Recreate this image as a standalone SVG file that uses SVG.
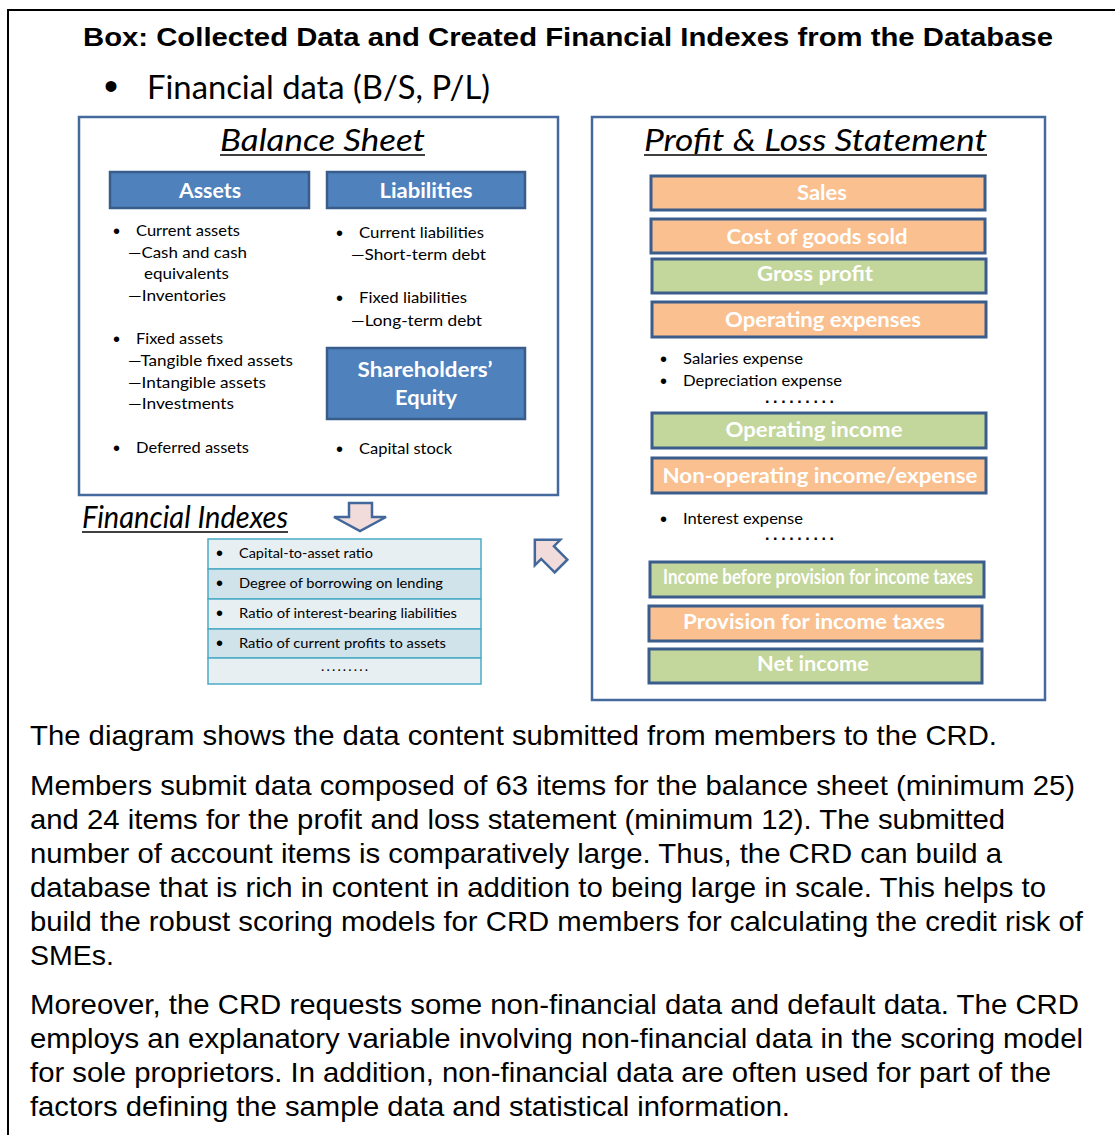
<svg xmlns="http://www.w3.org/2000/svg" width="1115" height="1135" viewBox="0 0 1115 1135">
<defs>
<style>
.frame{fill:#ffffff;stroke:#45699c;stroke-width:2.5}
.hdr{fill:#4f81bd;stroke:#385d8a;stroke-width:2.5}
.hdrt{font-family:Lato,"Liberation Sans",sans-serif;font-weight:bold;font-size:21px;fill:#ffffff;text-anchor:middle}
.lbl{font-family:Lato,"Liberation Sans",sans-serif;font-size:15px;fill:#000000}
.bul{font-family:"Liberation Sans",sans-serif;font-size:20px;fill:#000000}
.head{font-family:Lato,"Liberation Sans",sans-serif;font-style:italic;font-size:31px;fill:#000000}
.ul{stroke:#000000;stroke-width:1.5}
.or{fill:#fac090;stroke:#3b5d8c;stroke-width:3}
.gr{fill:#c3d69b;stroke:#3b5d8c;stroke-width:3}
.bart{font-family:Lato,"Liberation Sans",sans-serif;font-weight:bold;font-size:20px;fill:#ffffff;text-anchor:middle}
.para{font-family:"Liberation Sans",Arial,sans-serif;font-size:28px;fill:#000000}
.row1{fill:#e8eff3;stroke:#4bacc6;stroke-width:1.5}
.row2{fill:#d0e2ea;stroke:#4bacc6;stroke-width:1.5}
.tl{font-family:Lato,"Liberation Sans",sans-serif;font-size:14px;fill:#000000}
.arrow{fill:#f2dcdb;stroke:#41679b;stroke-width:2.5;stroke-linejoin:miter}
.dots{font-family:"Liberation Sans",sans-serif;font-size:16px;font-weight:bold;fill:#000000}
</style>
</defs>
<rect x="0" y="0" width="1115" height="1135" fill="#ffffff"/>
<g id="outer-frame">
<line x1="8" y1="10" x2="1115" y2="10" stroke="#000000" stroke-width="2"/>
<line x1="8" y1="9" x2="8" y2="1135" stroke="#000000" stroke-width="2"/>
</g>
<g id="title">
<text x="83" y="46" font-family="Liberation Sans, Arial, sans-serif" font-weight="bold" font-size="26" textLength="970" lengthAdjust="spacingAndGlyphs">Box: Collected Data and Created Financial Indexes from the Database</text>
<text x="104" y="100" font-family="Liberation Sans, sans-serif" font-size="40">•</text>
<text x="147" y="99" font-family="Lato, Liberation Sans, sans-serif" font-size="32" textLength="343" lengthAdjust="spacingAndGlyphs">Financial data (B/S, P/L)</text>
</g>
<g id="balance-sheet">
<rect class="frame" x="79" y="117" width="479" height="378"/>
<text class="head" x="220" y="151" textLength="205" lengthAdjust="spacingAndGlyphs">Balance Sheet</text>
<line class="ul" x1="220" y1="155" x2="425" y2="155"/>
<g id="assets">
<rect class="hdr" x="110" y="172" width="199" height="36"/>
<text class="hdrt" x="210" y="198" textLength="62" lengthAdjust="spacingAndGlyphs">Assets</text>
<text class="bul" x="113" y="238">•</text>
<text class="lbl" x="136" y="236" textLength="104" lengthAdjust="spacingAndGlyphs">Current assets</text>
<text class="lbl" x="128" y="258" textLength="119" lengthAdjust="spacingAndGlyphs">—Cash and cash</text>
<text class="lbl" x="144" y="279" textLength="85" lengthAdjust="spacingAndGlyphs">equivalents</text>
<text class="lbl" x="128" y="301" textLength="98" lengthAdjust="spacingAndGlyphs">—Inventories</text>
<text class="bul" x="113" y="346">•</text>
<text class="lbl" x="136" y="344" textLength="87" lengthAdjust="spacingAndGlyphs">Fixed assets</text>
<text class="lbl" x="128" y="366" textLength="165" lengthAdjust="spacingAndGlyphs">—Tangible fixed assets</text>
<text class="lbl" x="128" y="388" textLength="138" lengthAdjust="spacingAndGlyphs">—Intangible assets</text>
<text class="lbl" x="128" y="409" textLength="106" lengthAdjust="spacingAndGlyphs">—Investments</text>
<text class="bul" x="113" y="455">•</text>
<text class="lbl" x="136" y="453" textLength="113" lengthAdjust="spacingAndGlyphs">Deferred assets</text>
</g>
<g id="liabilities">
<rect class="hdr" x="327" y="172" width="198" height="36"/>
<text class="hdrt" x="426" y="198" textLength="93" lengthAdjust="spacingAndGlyphs">Liabilities</text>
<text class="bul" x="336" y="240">•</text>
<text class="lbl" x="359" y="238" textLength="125" lengthAdjust="spacingAndGlyphs">Current liabilities</text>
<text class="lbl" x="351" y="260" textLength="135" lengthAdjust="spacingAndGlyphs">—Short-term debt</text>
<text class="bul" x="336" y="305">•</text>
<text class="lbl" x="359" y="303" textLength="108" lengthAdjust="spacingAndGlyphs">Fixed liabilities</text>
<text class="lbl" x="351" y="326" textLength="131" lengthAdjust="spacingAndGlyphs">—Long-term debt</text>
</g>
<g id="equity">
<rect class="hdr" x="327" y="348" width="198" height="71"/>
<text class="hdrt" x="425" y="377" textLength="135" lengthAdjust="spacingAndGlyphs">Shareholders’</text>
<text class="hdrt" x="426" y="405" textLength="62" lengthAdjust="spacingAndGlyphs">Equity</text>
<text class="bul" x="336" y="456">•</text>
<text class="lbl" x="359" y="454" textLength="93" lengthAdjust="spacingAndGlyphs">Capital stock</text>
</g>
</g>
<g id="profit-loss">
<rect class="frame" x="592" y="117" width="453" height="583"/>
<text class="head" x="644" y="151" textLength="343" lengthAdjust="spacingAndGlyphs">Profit &amp; Loss Statement</text>
<line class="ul" x1="644" y1="155" x2="987" y2="155"/>
<g id="sales"><rect class="or" x="651" y="176" width="334" height="34"/><text class="bart" x="822" y="200" textLength="50" lengthAdjust="spacingAndGlyphs">Sales</text></g>
<g id="cogs"><rect class="or" x="651" y="219" width="334" height="34"/><text class="bart" x="817" y="244" textLength="181" lengthAdjust="spacingAndGlyphs">Cost of goods sold</text></g>
<g id="gross-profit"><rect class="gr" x="652" y="259" width="334" height="34"/><text class="bart" x="815" y="281" textLength="116" lengthAdjust="spacingAndGlyphs">Gross profit</text></g>
<g id="operating-expenses"><rect class="or" x="652" y="302" width="334" height="35"/><text class="bart" x="823" y="327" textLength="196" lengthAdjust="spacingAndGlyphs">Operating expenses</text></g>
<g id="opex-items">
<text class="bul" x="660" y="366">•</text>
<text class="lbl" x="683" y="364" textLength="120" lengthAdjust="spacingAndGlyphs">Salaries expense</text>
<text class="bul" x="660" y="388">•</text>
<text class="lbl" x="683" y="386" textLength="159" lengthAdjust="spacingAndGlyphs">Depreciation expense</text>
<text class="dots" x="765" y="403" textLength="69" lengthAdjust="spacing">.........</text>
</g>
<g id="operating-income"><rect class="gr" x="652" y="413" width="334" height="35"/><text class="bart" x="814" y="437" textLength="177" lengthAdjust="spacingAndGlyphs">Operating income</text></g>
<g id="non-operating"><rect class="or" x="652" y="458" width="334" height="35"/><text class="bart" x="820" y="483" textLength="315" lengthAdjust="spacingAndGlyphs">Non-operating income/expense</text></g>
<g id="nonop-items">
<text class="bul" x="660" y="526">•</text>
<text class="lbl" x="683" y="524" textLength="120" lengthAdjust="spacingAndGlyphs">Interest expense</text>
<text class="dots" x="765" y="540" textLength="69" lengthAdjust="spacing">.........</text>
</g>
<g id="income-before-tax"><rect class="gr" x="650" y="562" width="334" height="35"/><text class="bart" x="818" y="584" font-size="14" textLength="310" lengthAdjust="spacingAndGlyphs">Income before provision for income taxes</text></g>
<g id="provision"><rect class="or" x="649" y="606" width="333" height="35"/><text class="bart" x="814" y="629" textLength="262" lengthAdjust="spacingAndGlyphs">Provision for income taxes</text></g>
<g id="net-income"><rect class="gr" x="649" y="649" width="333" height="34"/><text class="bart" x="813" y="671" textLength="112" lengthAdjust="spacingAndGlyphs">Net income</text></g>
</g>
<g id="financial-indexes">
<text class="head" x="82" y="528" font-size="27" textLength="206" lengthAdjust="spacingAndGlyphs">Financial Indexes</text>
<line class="ul" x1="82" y1="532" x2="288" y2="532"/>
<rect class="row1" x="208" y="539" width="273" height="30"/>
<rect class="row2" x="208" y="569" width="273" height="30"/>
<rect class="row1" x="208" y="599" width="273" height="30"/>
<rect class="row2" x="208" y="629" width="273" height="29"/>
<rect class="row1" x="208" y="658" width="273" height="26"/>
<text class="bul" x="216" y="560" font-size="18">•</text>
<text class="tl" x="239" y="558" textLength="134" lengthAdjust="spacingAndGlyphs">Capital-to-asset ratio</text>
<text class="bul" x="216" y="590" font-size="18">•</text>
<text class="tl" x="239" y="588" textLength="204" lengthAdjust="spacingAndGlyphs">Degree of borrowing on lending</text>
<text class="bul" x="216" y="620" font-size="18">•</text>
<text class="tl" x="239" y="618" textLength="218" lengthAdjust="spacingAndGlyphs">Ratio of interest-bearing liabilities</text>
<text class="bul" x="216" y="650" font-size="18">•</text>
<text class="tl" x="239" y="648" textLength="207" lengthAdjust="spacingAndGlyphs">Ratio of current profits to assets</text>
<text class="tl" x="321" y="671" textLength="47" lengthAdjust="spacing">.........</text>
</g>
<g id="connectors">
<path class="arrow" d="M349,503 L372,503 L372,517 L386,517 L360,531 L334,517 L349,517 Z"/>
<path class="arrow" transform="translate(561,566) rotate(-135)" d="M0,-9 L19,-9 L19,-18 L37,0 L19,18 L19,9 L0,9 Z"/>
</g>
<g id="description">
<text class="para" x="30" y="745" textLength="967" lengthAdjust="spacingAndGlyphs">The diagram shows the data content submitted from members to the CRD.</text>
<text class="para" x="30" y="795" textLength="1045" lengthAdjust="spacingAndGlyphs">Members submit data composed of 63 items for the balance sheet (minimum 25)</text>
<text class="para" x="30" y="829" textLength="975" lengthAdjust="spacingAndGlyphs">and 24 items for the profit and loss statement (minimum 12). The submitted</text>
<text class="para" x="30" y="863" textLength="972" lengthAdjust="spacingAndGlyphs">number of account items is comparatively large. Thus, the CRD can build a</text>
<text class="para" x="30" y="897" textLength="1016" lengthAdjust="spacingAndGlyphs">database that is rich in content in addition to being large in scale. This helps to</text>
<text class="para" x="30" y="931" textLength="1053" lengthAdjust="spacingAndGlyphs">build the robust scoring models for CRD members for calculating the credit risk of</text>
<text class="para" x="30" y="965" textLength="84" lengthAdjust="spacingAndGlyphs">SMEs.</text>
<text class="para" x="30" y="1014" textLength="1049" lengthAdjust="spacingAndGlyphs">Moreover, the CRD requests some non-financial data and default data. The CRD</text>
<text class="para" x="30" y="1048" textLength="1053" lengthAdjust="spacingAndGlyphs">employs an explanatory variable involving non-financial data in the scoring model</text>
<text class="para" x="30" y="1082" textLength="1021" lengthAdjust="spacingAndGlyphs">for sole proprietors. In addition, non-financial data are often used for part of the</text>
<text class="para" x="30" y="1116" textLength="760" lengthAdjust="spacingAndGlyphs">factors defining the sample data and statistical information.</text>
</g>
</svg>
